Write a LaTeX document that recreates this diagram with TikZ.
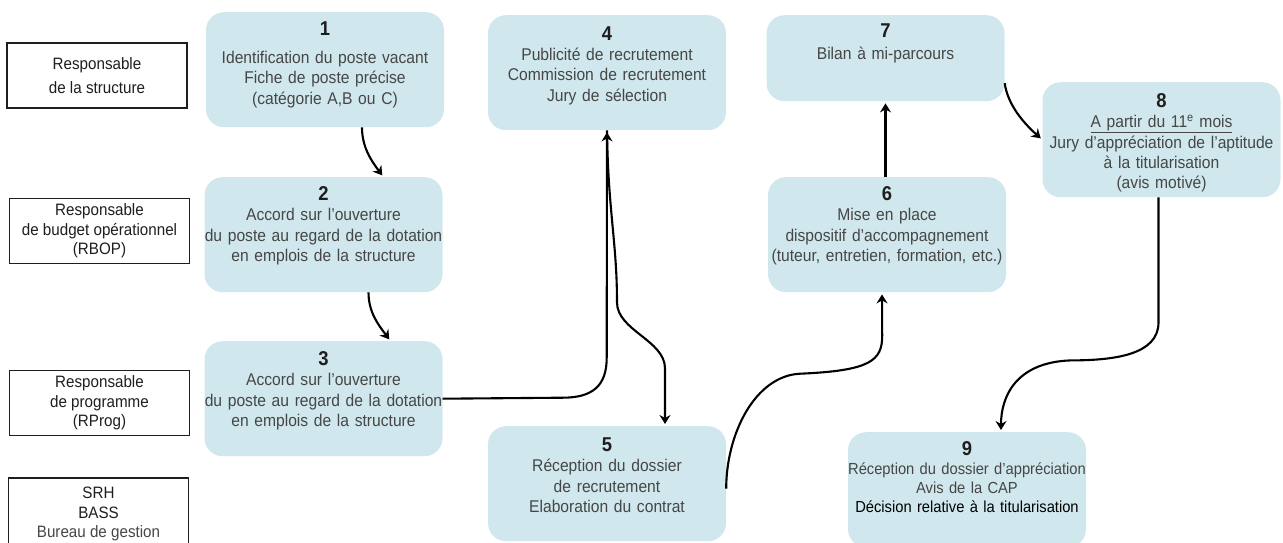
\documentclass[tikz,border=0pt]{standalone}
\usepackage{fontspec}
\setmainfont{Liberation Sans}[FakeStretch=0.92]
\usetikzlibrary{arrows.meta}

\definecolor{bleuetape}{RGB}{208,232,237}
\definecolor{gristexte}{RGB}{70,70,70}
\definecolor{noirnum}{RGB}{30,30,30}

\newcommand{\numetape}[1]{{\fontsize{20}{24}\selectfont\bfseries\color{noirnum}#1}}

\begin{document}
\begin{tikzpicture}[x=1pt,y=-1pt,
    etape/.style={fill=bleuetape, rounded corners=18pt, text width=250pt, inner xsep=-6pt, inner ysep=0pt,
        align=center, anchor=north, text=gristexte, font=\fontsize{17}{20.4}\selectfont,
        text height=24pt, text depth=91pt},
    acteur/.style={draw=noirnum, line width=1.9pt, minimum width=180pt, minimum height=65pt,
        align=center, text=noirnum, font=\fontsize{16.5}{19.5}\selectfont},
    fleche/.style={line width=2.1pt, shorten >=2pt, -{Stealth[length=9pt,width=11pt,inset=3pt]}}]

% Cadre de la page
\clip (0,0) rectangle (1283,543);

% Responsables (colonne de gauche)
\node[acteur] (r1) at (97,75.5) {Responsable\\[5pt]de la structure};
\node[acteur] (r2) at (99.5,231) {Responsable\\de budget opérationnel\\(RBOP)};
\node[acteur] (r3) at (99.5,403) {Responsable\\de programme\\(RProg)};
\node[acteur, minimum height=72pt] (r4) at (98.5,514) {SRH\\BASS\\{\color{gristexte}Bureau de gestion}};

% Etapes de la procedure
\node[etape, text height=23pt, text depth=92pt] (e1) at (325,12)
    {\numetape{1}\\[8pt]Identification du poste vacant\\Fiche de poste précise\\(catégorie A,B ou C)};
\node[etape, text height=23pt, text depth=92pt] (e2) at (323.5,177)
    {\numetape{2}\\Accord sur l’ouverture\\du poste au regard de la dotation\\en emplois de la structure};
\node[etape] (e3) at (323.5,341)
    {\numetape{3}\\Accord sur l’ouverture\\du poste au regard de la dotation\\en emplois de la structure};
\node[etape, text height=25pt, text depth=90pt] (e4) at (607,15)
    {\numetape{4}\\Publicité de recrutement\\Commission de recrutement\\Jury de sélection};
\node[etape, text height=25pt, text depth=90pt] (e5) at (607,426)
    {\numetape{5}\\Réception du dossier\\de recrutement\\Elaboration du contrat};
\node[etape, text height=23pt, text depth=92pt] (e6) at (887,177)
    {\numetape{6}\\Mise en place\\dispositif d’accompagnement\\(tuteur, entretien, formation, etc.)};
\node[etape, text height=22pt, text depth=64pt] (e7) at (885.5,15)
    {\numetape{7}\\[2pt]Bilan à mi-parcours};
\node[etape, text height=25pt, text depth=90pt] (e8) at (1161.5,82)
    {\numetape{8}\\\underline{A partir du 11\textsuperscript{e} mois}\\Jury d’appréciation de l’aptitude\\à la titularisation\\(avis motivé)};
\node[etape, text height=23pt, text depth=92pt, font=\fontsize{16}{19}\selectfont] (e9) at (967,432)
    {\numetape{9}\\Réception du dossier d’appréciation\\Avis de la CAP\\{\color{black}Décision relative à la titularisation}};

% Fleches 1 -> 2 -> 3
\draw[fleche] ([xshift=37pt]e1.south) .. controls +(0,20) and +(-12,-16) .. ([xshift=60pt]e2.north);
\draw[fleche] ([xshift=45pt]e2.south) .. controls +(0,20) and +(-12,-16) .. ([xshift=67pt]e3.north);

% 3 -> 4 puis 4 -> 5
\draw[fleche] (e3.east) -- ++(120,-1) .. controls +(30,0) and +(0,28) .. ++(44,-40) -- (e4.south);
\draw[fleche] (e4.south) .. controls +(1,80) and +(0,-60) .. ++(10,172)
    .. controls +(0,28) and +(0,-28) .. ++(48,66) -- ([xshift=58pt]e5.north);

% 5 -> 6 -> 7
\draw[fleche] ([yshift=-5pt]e5.east) .. controls +(0,-55) and +(-45,2) .. ++(74,-115)
    .. controls +(70,-3) and +(0,25) .. ++(82,-38) -- ([xshift=-5pt]e6.south);
\draw[fleche] (e7.south |- e6.north) -- (e7.south);

% 7 -> 8 -> 9
\draw[fleche] ([yshift=-25pt]e7.east) .. controls +(3,22) and +(-18,-16) .. (e8.west);
\draw[fleche] ([xshift=-3pt]e8.south) -- ++(0,125) .. controls +(0,32) and +(45,0) .. ++(-88,38)
    .. controls +(-55,2) and +(0,-35) .. ([xshift=34pt]e9.north);

\end{tikzpicture}
\end{document}
